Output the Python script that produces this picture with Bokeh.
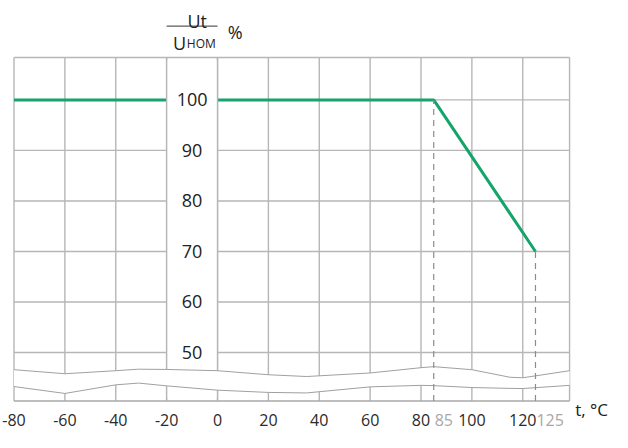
from bokeh.plotting import figure
from bokeh.models import Range1d
from bokeh.embed import file_html
from bokeh.resources import INLINE
from bokeh.core.properties import value

# ---- data ----
temps = [-80, 85, 125]          # t, °C
u_pct = [100, 100, 70]          # Ut / Uном, %
x_ticks = [-80, -60, -40, -20, 0, 20, 40, 60, 80, 100, 120]
x_tick_labels = ["-80", "-60", "-40", "-20", "0", "20", "40", "60", "80", "100", "120"]
x_marks = [85, 125]
x_mark_labels = ["85", "125"]
y_ticks = [50, 60, 70, 80, 90, 100]
y_tick_labels = ["50", "60", "70", "80", "90", "100"]
label_gap = [-20, 0]
x_end = 138.4
y_top = 108.4
y_floor = 40.4

# axis-break waves
wave_x = [-80, -60, -40, -31, -20, 0, 20, 35, 60, 80, 85, 100, 115, 120, 138.4]
wave_upper = [46.6, 45.8, 46.4, 46.7, 46.65, 46.4, 45.6, 45.25, 45.95, 47.0, 47.2, 46.6, 45.1, 45.0, 46.4]
wave_lower = [43.26, 41.9, 43.6, 43.95, 43.4, 42.55, 42.1, 42.0, 43.2, 43.5, 43.45, 43.07, 42.9, 42.87, 43.5]

GREEN = "#14a46c"
GRID = "#b6b6b6"
FONT = value("Open Sans")

p = figure(width=612, height=432, x_range=Range1d(-85.31, 155.28), y_range=Range1d(34.17, 119.67),
           output_backend="svg", toolbar_location=None, min_border=0,
           x_axis_location=None, y_axis_location=None)
p.grid.visible = False
p.outline_line_color = None
p.background_fill_color = "white"
p.border_fill_color = "white"

# grid
vx = x_ticks + [x_end]
p.segment(x0=vx, y0=y_floor, x1=vx, y1=y_top, line_color=GRID, line_width=1.4)
hy = y_ticks + [y_top]
p.segment(x0=x_ticks[0], y0=hy, x1=x_end, y1=hy, line_color=GRID, line_width=1.4)
p.segment(x0=x_ticks[0], y0=y_floor, x1=x_end, y1=y_floor, line_color="#a8a8a8", line_width=1.4)

# series
p.line(temps, u_pct, line_color=GREEN, line_width=3)

# label column
p.quad(left=label_gap[0], right=label_gap[1], bottom=y_floor + 0.5, top=y_top - 0.5,
       fill_color="white", line_color=None)
p.segment(x0=label_gap, y0=y_floor, x1=label_gap, y1=y_top, line_color=GRID, line_width=1.4)

# axis break
p.varea(x=wave_x, y1=wave_lower, y2=wave_upper, fill_color="white")
p.line(wave_x, wave_upper, line_color="#a0a0a0", line_width=1)
p.line(wave_x, wave_lower, line_color="#a0a0a0", line_width=1)

# dashed drop lines
p.segment(x0=x_marks, y0=y_floor, x1=x_marks, y1=u_pct[1:], line_color="#8c8c8c",
          line_width=1.2, line_dash="6 5")

# y labels
p.text(x=sum(label_gap) / 2, y=y_ticks, text=y_tick_labels, text_align="center",
       text_baseline="middle", text_font=FONT, text_font_size="18px", text_color="#222222")

# x labels
label_y = 36.55
p.text(x=x_ticks, y=label_y, text=x_tick_labels, text_align="center", text_baseline="middle",
       text_font=FONT, text_font_size="16px", text_color="#2a2a2a")
p.text(x=x_marks, y=label_y, text=x_mark_labels, text_align="left", text_baseline="middle",
       x_offset=1, text_font=FONT, text_font_size="16px", text_color="#a8a8a8")

# axis titles
p.text(x=-8, y=115.71, text=["Ut"], text_align="center", text_baseline="alphabetic",
       text_font=FONT, text_font_size="18px", text_color="#222222")
p.segment(x0=label_gap[0], y0=114.6, x1=label_gap[1], y1=114.6, line_color="#333333", line_width=1)
p.text(x=-17.5, y=111.23, text=["U"], text_align="left", text_baseline="alphabetic",
       text_font=FONT, text_font_size="18px", text_color="#222222")
p.text(x=-12.08, y=111.23, text=["НОМ"], text_align="left", text_baseline="alphabetic",
       text_font=FONT, text_font_size="12px", text_color="#222222")
p.text(x=4.0, y=113.34, text=["%"], text_align="left", text_baseline="alphabetic",
       text_font=FONT, text_font_size="18px", text_color="#222222")
p.text(x=140.6, y=38.72, text=["t, °C"], text_align="left", text_baseline="alphabetic",
       text_font=FONT, text_font_size="17px", text_color="#222222")

open("out.html", "w").write(file_html(p, INLINE))
